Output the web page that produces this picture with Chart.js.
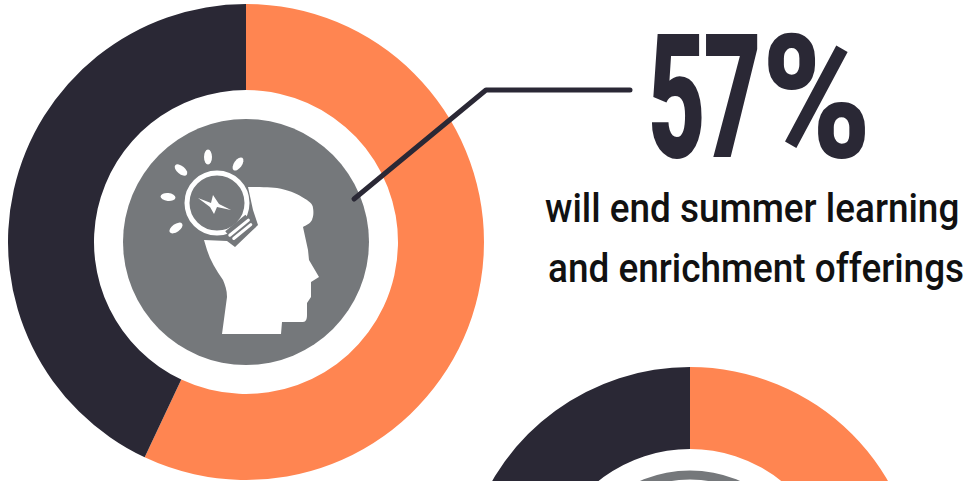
<!DOCTYPE html>
<html lang="en">
<head>
  <meta charset="UTF-8" />
  <title>Summer learning offerings</title>
  <script src="https://cdn.jsdelivr.net/npm/chart.js"></script>
  <style>
    html, body {
      margin: 0;
      width: 970px;
      height: 481px;
      overflow: hidden;
      background: #fff;
    }
    canvas, .txt { position: absolute; }
    #topDonut { left: 8px; top: 4px; }
    #bottomDonut { left: 461px; top: 367px; }
    .txt {
      font-family: "Roboto", sans-serif;
      white-space: nowrap;
      transform-origin: 0 0;
    }
    #bigNum {
      left: 648px; top: -2px;
      font-weight: 900;
      font-size: 172px;
      line-height: 200px;
      letter-spacing: -4px;
      color: #2a2835;
      transform: scaleX(0.58);
    }
    #bigNum span {
      display: inline-block;
      margin-left: 5px;
      transform-origin: 0 0;
      transform: scaleX(1.48);
    }
    .sub {
      font-weight: 500;
      font-size: 41px;
      line-height: 44px;
      color: #111;
      transform: scaleX(0.9);
    }
    #line1 { left: 545px; top: 186px; }
    #line2 { left: 548px; top: 246px; }
  </style>
</head>
<body>
  <canvas id="topDonut" width="476" height="476"></canvas>
  <canvas id="bottomDonut" width="458" height="458"></canvas>
  <div class="txt" id="bigNum">57<span>%</span></div>
  <div class="txt sub" id="line1">will end summer learning</div>
  <div class="txt sub" id="line2">and enrichment offerings</div>

  <script>
    const categories = ['Will end', 'Will not end'];
    const topValues = [57, 43];
    const bottomValues = [60, 40]; // only the top of this ring is visible, rest is a guess
    const ringColors = ['#ff8551', '#2a2835'];

    const GRAY = '#75787b';

    // head + light bulb icon, units are px from disc centre
    const headPath = 'M2 -55 C12 -55 24 -55 31 -54 C42 -52 50 -49 56 -45 C63 -41 67 -38 67 -34 ' +
      'C68 -28 67 -25 66 -22 C64 -18 60 -17 57 -15 L62 8 L63 18 L73 35 L65 40 L65 55 L61 61 L61 73 ' +
      'C61 77 60 80 57 80 L36 80 L35 92 L-24 92 L-19 55 C-19 48 -21 43 -23 38 C-30 28 -36 18 -39 8 ' +
      'L-42 -2 L-19 -1 L-11 5 L12 -17 L7 -32 Z';
    const boltPath = 'M-48 -44 L-35 -39 L-33 -47 L-27 -38 L-15 -32 L-29 -35 L-32 -28 L-36 -35 Z';

    const rays = [
      [-38, -85, 90], [-65, -72, 40], [-8, -78, -55],
      [-78, -45, 5], [-70, -14, -35]
    ];

    const drawIcon = (ctx, cx, cy) => {
      ctx.save();
      ctx.translate(cx, cy);
      ctx.fillStyle = '#fff';
      ctx.strokeStyle = '#fff';
      ctx.fill(new Path2D(headPath));

      // bulb glass
      ctx.lineWidth = 5;
      ctx.beginPath();
      ctx.arc(-29, -39, 30, 0, Math.PI * 2);
      ctx.stroke();

      // neck and screw base
      ctx.save();
      ctx.translate(-5, -12);
      ctx.rotate(-Math.PI / 4.6);
      ctx.fillStyle = GRAY;
      ctx.fillRect(-13, -9, 26, 16);
      ctx.lineWidth = 3;
      ctx.lineCap = 'round';
      ctx.beginPath();
      ctx.moveTo(-12, -3); ctx.lineTo(12, -3);
      ctx.moveTo(-11, 2); ctx.lineTo(11, 2);
      ctx.stroke();
      ctx.restore();

      ctx.fillStyle = '#fff';
      ctx.fill(new Path2D(boltPath));

      rays.forEach(r => {
        ctx.beginPath();
        ctx.ellipse(r[0], r[1], 7.5, 4, r[2] * Math.PI / 180, 0, Math.PI * 2);
        ctx.fill();
      });
      ctx.restore();
    };

    const topCenter = {
      id: 'topCenter',
      afterDraw(chart) {
        const arc = chart.getDatasetMeta(0).data[0];
        const { ctx } = chart;
        ctx.save();
        ctx.fillStyle = GRAY;
        ctx.beginPath();
        ctx.arc(arc.x, arc.y, 123, 0, Math.PI * 2);
        ctx.fill();
        ctx.restore();
        drawIcon(ctx, arc.x, arc.y);
      }
    };

    const bottomCenter = {
      id: 'bottomCenter',
      afterDraw(chart) {
        const arc = chart.getDatasetMeta(0).data[0];
        const { ctx } = chart;
        ctx.save();
        ctx.strokeStyle = GRAY;
        ctx.lineWidth = 9;
        ctx.beginPath();
        ctx.arc(arc.x, arc.y, 121, 0, Math.PI * 2);
        ctx.stroke();
        ctx.restore();
      }
    };

    const makeDonut = (id, values, cutout, plugin) => new Chart(document.getElementById(id), {
      type: 'doughnut',
      data: {
        labels: categories,
        datasets: [{ data: values, backgroundColor: ringColors, borderWidth: 0 }]
      },
      options: {
        responsive: false,
        animation: false,
        cutout,
        plugins: { legend: { display: false }, tooltip: { enabled: false } }
      },
      plugins: [plugin]
    });

    makeDonut('topDonut', topValues, 152, topCenter);
    makeDonut('bottomDonut', bottomValues, 147, bottomCenter);
  </script>
  <svg style="position:absolute;left:0;top:0" width="970" height="481">
    <polyline points="354,199 486,90 630,90" fill="none" stroke="#2a2835" stroke-width="5" stroke-linecap="round" stroke-linejoin="round" />
  </svg>
</body>
</html>
